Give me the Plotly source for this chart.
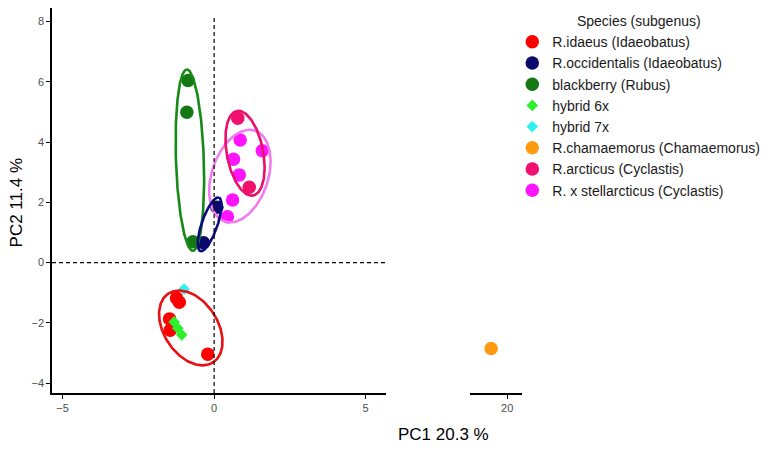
import numpy as np
import plotly.graph_objects as go

# ---- data ----
species = ["R.idaeus (Idaeobatus)", "R.occidentalis (Idaeobatus)", "blackberry (Rubus)",
           "hybrid 6x", "hybrid 7x", "R.chamaemorus (Chamaemorus)",
           "R.arcticus (Cyclastis)", "R. x stellarcticus (Cyclastis)"]
colors = ["#FF0000", "#0A0A6A", "#147814", "#2BF02B", "#33F0F0", "#FF9A12", "#F0106E", "#FF14FF"]
symbols = ["circle", "circle", "circle", "diamond", "diamond", "circle", "circle", "circle"]

pc1 = {
    "R.idaeus (Idaeobatus)": [-1.24, -1.15, -1.47, -1.45, -0.21],
    "R.occidentalis (Idaeobatus)": [-0.35, 0.09],
    "blackberry (Rubus)": [-0.86, -0.90, -0.70],
    "hybrid 6x": [-1.32, -1.20, -1.07],
    "hybrid 7x": [-0.99],
    "R.chamaemorus (Chamaemorus)": [19.47],
    "R.arcticus (Cyclastis)": [0.78, 1.16],
    "R. x stellarcticus (Cyclastis)": [0.86, 1.59, 0.64, 0.83, 0.61, 0.44],
}
pc2 = {
    "R.idaeus (Idaeobatus)": [-1.18, -1.32, -1.87, -2.25, -3.04],
    "R.occidentalis (Idaeobatus)": [0.66, 1.84],
    "blackberry (Rubus)": [6.04, 4.99, 0.69],
    "hybrid 6x": [-1.97, -2.18, -2.40],
    "hybrid 7x": [-0.88],
    "R.chamaemorus (Chamaemorus)": [-2.85],
    "R.arcticus (Cyclastis)": [4.79, 2.50],
    "R. x stellarcticus (Cyclastis)": [4.07, 3.71, 3.43, 2.91, 2.08, 1.52],
}

# ellipse parameters (center, semi-axes, rotation in degrees)
ell_names = ["blackberry (Rubus)", "R. x stellarcticus (Cyclastis)", "R.arcticus (Cyclastis)",
             "R.occidentalis (Idaeobatus)", "R.idaeus (Idaeobatus)"]
ell_colors = ["#168A16", "#F07CF0", "#E8106A", "#0A0A80", "#E81010"]
ell_cx = [-0.80, 0.85, 1.02, -0.15, -0.77]
ell_cy = [3.40, 2.87, 3.63, 1.27, -2.17]
ell_a = [3.01, 1.59, 1.43, 0.94, 1.36]
ell_b = [0.46, 0.93, 0.60, 0.26, 0.89]
ell_theta = [91.9, 71.7, 100.7, 71.0, -57.5]

x_ticks = [-5, 0, 5]
x2_ticks = [20]
y_ticks = [-4, -2, 0, 2, 4, 6, 8]

FONT = "Liberation Sans, Arial, sans-serif"

fig = go.Figure()

# points
for name, col, sym in zip(species, colors, symbols):
    xa = "x2" if name.startswith("R.chamaemorus") else "x"
    fig.add_trace(go.Scatter(
        x=pc1[name], y=pc2[name], mode="markers", name=name,
        xaxis=xa, yaxis="y",
        marker=dict(color=col, symbol=sym, size=9 if sym == "diamond" else 13.5,
                    line=dict(width=0)),
    ))

# ellipses
t = np.linspace(0, 2 * np.pi, 200)
for nm, col, cx, cy, a, b, th in zip(ell_names, ell_colors, ell_cx, ell_cy, ell_a, ell_b, ell_theta):
    r = np.deg2rad(th)
    ex = cx + a * np.cos(t) * np.cos(r) - b * np.sin(t) * np.sin(r)
    ey = cy + a * np.cos(t) * np.sin(r) + b * np.sin(t) * np.cos(r)
    fig.add_trace(go.Scatter(x=ex, y=ey, mode="lines", line=dict(color=col, width=2.6),
                             showlegend=False, hoverinfo="skip", xaxis="x", yaxis="y"))

XR = [-5.35, 5.67]
X2R = [18.78, 20.49]
YR = [-4.33, 8.45]

# dashed reference lines
fig.add_shape(type="line", xref="x", yref="y", x0=XR[0], x1=XR[1], y0=0, y1=0,
              line=dict(color="black", width=1.2, dash="4px,3px"))
fig.add_shape(type="line", xref="x", yref="y", x0=0, x1=0, y0=YR[0], y1=8.2,
              line=dict(color="black", width=1.2, dash="4px,3px"))

axis_common = dict(showgrid=False, zeroline=False, showline=True, linecolor="black", linewidth=1.6,
                   ticks="outside", ticklen=4, tickwidth=1.2, tickcolor="black",
                   tickfont=dict(family=FONT, size=11, color="#4D4D4D"))

fig.update_layout(
    width=768, height=451,
    margin=dict(l=44, r=254.3, t=0, b=66, autoexpand=False),
    paper_bgcolor="white", plot_bgcolor="white",
    font=dict(family=FONT, color="black"),
    xaxis=dict(domain=[0, 0.7105], range=XR, tickvals=x_ticks, anchor="y", **axis_common),
    xaxis2=dict(domain=[0.89, 1.0], range=X2R, tickvals=x2_ticks, anchor="y", **axis_common),
    yaxis=dict(range=YR, tickvals=y_ticks, anchor="x", **axis_common),
    legend=dict(x=0.9793, xanchor="left", y=1.0, yanchor="top",
                font=dict(family=FONT, size=14, color="#1a1a1a"),
                title=dict(text="Species (subgenus)", side="top center",
                           font=dict(family=FONT, size=14, color="#1a1a1a")),
                tracegroupgap=0, itemwidth=30, bgcolor="rgba(0,0,0,0)"),
    showlegend=True,
)

fig.add_annotation(text="PC1 20.3 %", xref="paper", yref="paper", x=0.834, y=-0.109,
                   xanchor="center", yanchor="middle", showarrow=False,
                   font=dict(family=FONT, size=17, color="black"))
fig.add_annotation(text="PC2 11.4 %", xref="paper", yref="paper", x=-0.0766, y=0.495,
                   xanchor="center", yanchor="middle", showarrow=False, textangle=-90,
                   font=dict(family=FONT, size=17, color="black"))

fig.write_html("out.html")
